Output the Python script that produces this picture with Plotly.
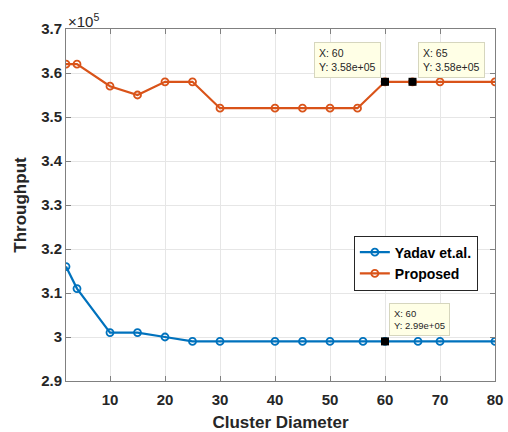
import plotly.graph_objects as go

# Data (throughput values in absolute units)
yadav_x = [2, 4, 10, 15, 20, 25, 30, 40, 45, 50, 56, 60, 66, 70, 80]
yadav_y = [316000, 311000, 301000, 301000, 300000, 299000, 299000, 299000,
           299000, 299000, 299000, 299000, 299000, 299000, 299000]
prop_x = [2, 4, 10, 15, 20, 25, 30, 40, 45, 50, 55, 60, 65, 70, 80]
prop_y = [362000, 362000, 357000, 355000, 358000, 358000, 352000, 352000,
          352000, 352000, 352000, 358000, 358000, 358000, 358000]
x_ticks = [10, 20, 30, 40, 50, 60, 70, 80]
y_ticks = [2.9, 3.0, 3.1, 3.2, 3.3, 3.4, 3.5, 3.6, 3.7]
scale = 1e5

# Data tips (x, y)
tip_x = [60, 65, 60]
tip_y = [358000, 358000, 299000]

BLUE = "#0072BD"
ORANGE = "#D95319"
FONT = "Liberation Sans, Arial, sans-serif"

fig = go.Figure()
fig.add_trace(go.Scatter(
    x=yadav_x, y=[v / scale for v in yadav_y], mode="lines+markers",
    name="Yadav et.al.",
    line=dict(color=BLUE, width=2.2),
    marker=dict(symbol="circle-open", size=7, color=BLUE, line=dict(width=1.8)),
))
fig.add_trace(go.Scatter(
    x=prop_x, y=[v / scale for v in prop_y], mode="lines+markers",
    name="Proposed",
    line=dict(color=ORANGE, width=2.2),
    marker=dict(symbol="circle-open", size=7, color=ORANGE, line=dict(width=1.8)),
))
fig.add_trace(go.Scatter(
    x=tip_x, y=[v / scale for v in tip_y], mode="markers", showlegend=False,
    marker=dict(symbol="square", size=8, color="black"),
))

tip_style = dict(showarrow=False, bgcolor="#FFFFE6", bordercolor="#D6D6BE",
                 borderwidth=1, borderpad=4, align="left", xref="x", yref="y")
fig.add_annotation(x=tip_x[0], y=tip_y[0] / scale, text="X: 60<br>Y: 3.58e+05",
                   xanchor="right", yanchor="bottom", xshift=-4, yshift=4,
                   font=dict(family=FONT, size=10.5, color="#262626"), **tip_style)
fig.add_annotation(x=tip_x[1], y=tip_y[1] / scale, text="X: 65<br>Y: 3.58e+05",
                   xanchor="left", yanchor="bottom", xshift=5, yshift=4,
                   font=dict(family=FONT, size=10.5, color="#262626"), **tip_style)
fig.add_annotation(x=tip_x[2], y=tip_y[2] / scale, text="X: 60<br>Y: 2.99e+05",
                   xanchor="left", yanchor="bottom", xshift=4, yshift=5,
                   font=dict(family=FONT, size=9.5, color="#262626"), **tip_style)

fig.add_annotation(x=0, y=1, xref="paper", yref="paper", xanchor="left",
                   yanchor="bottom", showarrow=False, yshift=-3,
                   text="×10<sup>5</sup>",
                   font=dict(family=FONT, size=15, color="#262626"))

axis_common = dict(showline=True, linecolor="#808080", linewidth=1,
                   mirror="ticks", ticks="inside", ticklen=5, tickcolor="#808080",
                   showgrid=True, gridcolor="#E6E6E6", gridwidth=1, zeroline=False,
                   automargin=False, ticklabeloverflow="allow",
                   tickfont=dict(family=FONT, size=15, color="#262626", weight="bold"))

fig.update_layout(
    width=508, height=432,
    margin=dict(l=66, r=13, t=29, b=51),
    paper_bgcolor="white", plot_bgcolor="white",
    font=dict(family=FONT, color="#262626"),
    xaxis=dict(range=[2, 80], tickvals=x_ticks, ticklabelstandoff=5,
               title=dict(text="<b>Cluster Diameter</b>", standoff=10,
                          font=dict(family=FONT, size=17, color="#262626")),
               **axis_common),
    yaxis=dict(range=[2.9, 3.7], tickvals=y_ticks,
               ticktext=[f"{v:g}" for v in y_ticks],
               title=dict(text="<b>Throughput</b>", standoff=10,
                          font=dict(family=FONT, size=17, color="#262626")),
               **axis_common),
    legend=dict(x=0.96, y=0.413, xanchor="right", yanchor="top",
                bgcolor="white", bordercolor="#262626", borderwidth=1,
                font=dict(family=FONT, size=14, color="black", weight="bold"),
                itemwidth=30, tracegroupgap=0),
    showlegend=True,
)

fig.write_html("out.html", config={"displayModeBar": False},
               post_script="document.body.style.margin='0';document.body.style.overflow='hidden';")
